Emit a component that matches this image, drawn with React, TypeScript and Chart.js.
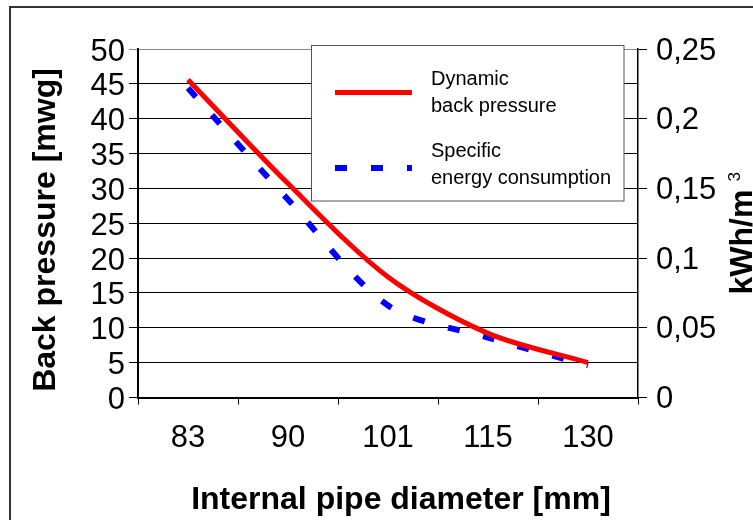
import React, { useEffect, useRef } from "react";
import { Chart, registerables } from "chart.js";

Chart.register(...registerables);

// ---- data ----
const categories = ["83", "90", "101", "115", "130"];
const backPressure = [45.6, 30.7, 17.3, 9.2, 5.0]; // mwg (left axis)
const energyConsumption = [0.222, 0.142, 0.066, 0.043, 0.023]; // kWh/m3 (right axis)
const leftTicksMax = 50;
const leftTicksStep = 5;
const rightTicksMax = 0.25;
const rightTicksStep = 0.05;
const legendLines1 = ["Dynamic", "back pressure"];
const legendLines2 = ["Specific", "energy consumption"];
const leftTitle = "Back pressure [mwg]";
const rightTitle = "kWh/m";
const rightTitleSup = "3";
const xTitle = "Internal pipe diameter [mm]";

const FONT = "'Liberation Sans', Arial, sans-serif";

const decorPlugin = {
  id: "decor",
  afterDraw(chart: any) {
    const ctx = chart.ctx as CanvasRenderingContext2D;
    ctx.save();
    // outer frame (cut off at right/bottom)
    ctx.strokeStyle = "#333";
    ctx.lineWidth = 2;
    ctx.beginPath();
    ctx.moveTo(10, 540);
    ctx.lineTo(10, 7);
    ctx.lineTo(780, 7);
    ctx.stroke();

    // legend box
    const lx = 311.5, ly = 45.5, lw = 312.5, lh = 155.5;
    ctx.fillStyle = "#fff";
    ctx.fillRect(lx, ly, lw, lh);
    ctx.strokeStyle = "#555";
    ctx.lineWidth = 1;
    ctx.strokeRect(lx, ly, lw, lh);

    const ds = chart.data.datasets;
    const sampleY = [92.5, 168];
    ds.forEach((d: any, i: number) => {
      ctx.save();
      ctx.strokeStyle = d.borderColor;
      ctx.lineWidth = d.borderWidth;
      ctx.lineCap = "butt";
      ctx.setLineDash(d.borderDash || []);
      ctx.beginPath();
      ctx.moveTo(335, sampleY[i]);
      ctx.lineTo(412, sampleY[i]);
      ctx.stroke();
      ctx.restore();
    });

    ctx.fillStyle = "#000";
    ctx.font = `20px ${FONT}`;
    ctx.textAlign = "left";
    ctx.textBaseline = "alphabetic";
    ctx.fillText(legendLines1[0], 431, 85);
    ctx.fillText(legendLines1[1], 431, 111.5);
    ctx.fillText(legendLines2[0], 431, 156.5);
    ctx.fillText(legendLines2[1], 431, 184);

    // axis titles
    ctx.font = `bold 32px ${FONT}`;
    ctx.save();
    ctx.translate(54.5, 230);
    ctx.rotate(-Math.PI / 2);
    ctx.textAlign = "center";
    ctx.fillText(leftTitle, 0, 0);
    ctx.restore();

    ctx.textAlign = "center";
    ctx.fillText(xTitle, 401, 509);

    ctx.save();
    ctx.translate(752, 242);
    ctx.rotate(-Math.PI / 2);
    ctx.textAlign = "center";
    ctx.fillText(rightTitle, 0, 0);
    const w = ctx.measureText(rightTitle).width;
    ctx.font = `17px ${FONT}`;
    ctx.textAlign = "left";
    ctx.fillText(rightTitleSup, w / 2 + 8, -12);
    ctx.restore();

    ctx.restore();
  },
};

export default function App() {
  const ref = useRef<HTMLCanvasElement | null>(null);
  useEffect(() => {
    if (!ref.current) return;
    const tickFont = { family: FONT, size: 31 };
    const chart = new Chart(ref.current, {
      type: "line",
      data: {
        labels: categories,
        datasets: [
          {
            label: "Dynamic back pressure",
            data: backPressure,
            borderColor: "#ff0000",
            borderWidth: 5,
            pointRadius: 0,
            tension: 0.3,
            fill: false,
            yAxisID: "y",
          },
          {
            label: "Specific energy consumption",
            data: energyConsumption,
            borderColor: "#0000ff",
            borderWidth: 6,
            borderDash: [12, 24],
            borderCapStyle: "butt",
            pointRadius: 0,
            tension: 0.3,
            fill: false,
            yAxisID: "y2",
          },
        ],
      },
      options: {
        animation: false,
        responsive: true,
        maintainAspectRatio: false,
        layout: { padding: { top: 49, left: 0, right: 0, bottom: 0 } },
        plugins: { legend: { display: false }, tooltip: { enabled: false } },
        scales: {
          x: {
            type: "category",
            offset: true,
            grid: { offset: true, drawOnChartArea: false, drawTicks: true, tickLength: 7, color: "#000", lineWidth: 1 },
            border: { display: true, color: "#000", width: 2 },
            ticks: { font: tickFont, color: "#000", padding: 15, maxRotation: 0, autoSkip: false },
            afterFit: (s: any) => { s.height = 122.5; },
          },
          y: {
            position: "left",
            min: 0,
            max: leftTicksMax,
            ticks: { stepSize: leftTicksStep, font: tickFont, color: "#000", padding: 4, labelOffset: 3, autoSkip: false },
            grid: {
              color: (c: any) => (c.tick && c.tick.value === leftTicksMax ? "#888" : "#000"),
              tickLength: 9,
              lineWidth: 1,
            },
            border: { color: "#000", width: 2 },
            afterFit: (s: any) => { s.width = 138; },
          },
          y2: {
            position: "right",
            min: 0,
            max: rightTicksMax,
            ticks: {
              stepSize: rightTicksStep,
              font: tickFont,
              color: "#000",
              padding: 9,
              labelOffset: 2,
              autoSkip: false,
              callback: (v: any) => String(Math.round(Number(v) * 100) / 100).replace(".", ","),
            },
            grid: { drawOnChartArea: false, color: "#000", tickLength: 9, lineWidth: 1 },
            border: { color: "#000", width: 1.5 },
            afterFit: (s: any) => { s.width = 115; },
          },
        },
      },
      plugins: [decorPlugin],
    });
    return () => chart.destroy();
  }, []);
  return (
    <div style={{ position: "fixed", left: 0, top: 0, width: 753, height: 520, background: "#fff" }}>
      <canvas ref={ref} />
    </div>
  );
}
